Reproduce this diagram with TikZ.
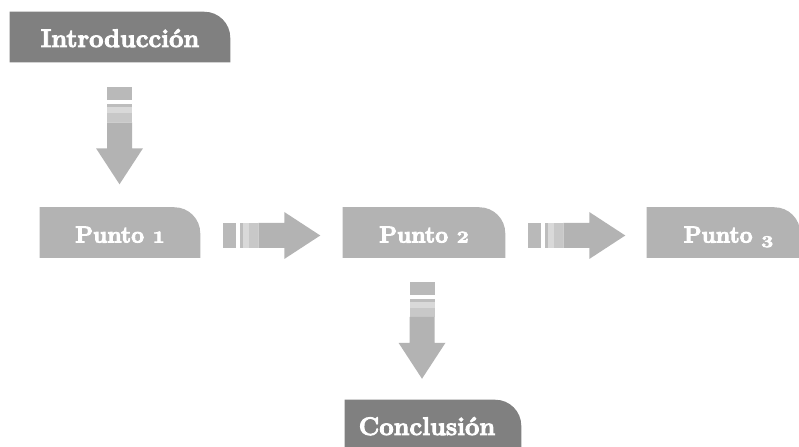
\documentclass[tikz,border=0pt]{standalone}
\usetikzlibrary{backgrounds}
\definecolor{darkbox}{HTML}{808080}
\definecolor{lightbox}{HTML}{B3B3B3}
\definecolor{arrA}{HTML}{B9B9B9}
\definecolor{arrB}{HTML}{BDBDBD}
\definecolor{arrC}{HTML}{D9D9D9}
\definecolor{arrD}{HTML}{C8C8C8}
\definecolor{arrmain}{HTML}{B3B3B3}
\newcommand{\heavytext}[1]{\special{pdf:code 2 Tr 0.7 w}#1\special{pdf:code 0 Tr}}
\newcommand{\osdigit}[1]{\scalebox{0.92}[0.72]{#1}}
\newcommand{\osdigitlow}[1]{\raisebox{-0.2em}{\scalebox{0.92}[0.72]{#1}}}
\tikzset{
  tabbox/.style={inner sep=0pt, minimum height=37.5pt, text=white,
    font=\bfseries\fontsize{17.28}{20}\selectfont, text height=15pt, text depth=0pt},
  bigtab/.style={tabbox, font=\bfseries\fontsize{19}{22}\selectfont},
  blockarr/.pic={
    \fill[arrA] (0,-12.5) rectangle (13,12.5);
    \fill[arrB] (17,-12.5) rectangle (20,12.5);
    \fill[arrC] (20,-12.5) rectangle (26,12.5);
    \fill[arrD] (26,-12.5) rectangle (35,12.5);
    \fill[arrmain] (35,-12.5) -- (61,-12.5) -- (61,-23.5) -- (97,0)
      -- (61,23.5) -- (61,12.5) -- (35,12.5) -- cycle;
  }
}
\begin{document}
\begin{tikzpicture}[x=0.75pt,y=0.75pt]
\useasboundingbox (0,0) rectangle (799,446);
\node[bigtab, minimum width=165pt] (intro) at (120,409) {\heavytext{Introducción}};
\node[tabbox, minimum width=120pt] (p1) at (120,213.5) {\heavytext{Punto \osdigit{1}}};
\node[tabbox, minimum width=121.5pt] (p2) at (424,213.5) {\heavytext{Punto \osdigit{2}}};
\node[tabbox, minimum width=114.75pt] (p3) at (723.5,213.5) {\hspace*{7.5pt}\heavytext{Punto \osdigitlow{3}}};
\node[bigtab, minimum width=132pt] (concl) at (433,21) {\heavytext{Conclusión}\hspace*{9pt}};
\begin{pgfonlayer}{background}
  \foreach \n/\c in {intro/darkbox, p1/lightbox, p2/lightbox, p3/lightbox, concl/darkbox}
    \fill[\c] (\n.south west) -- (\n.north west) -- ([xshift=-19.5pt]\n.north east)
      arc[start angle=90, end angle=0, radius=19.5pt] -- (\n.south east) -- cycle;
\end{pgfonlayer}
\path (intro.south) ++(-0.5,-25) coordinate (a1);
\path (p1.east) ++(23,-3) coordinate (a2);
\path (p2.east) ++(23,-3) coordinate (a3);
\path (p2.south) ++(-2,-24) coordinate (a4);
\pic[rotate=-90] at (a1) {blockarr};
\pic at (a2) {blockarr};
\pic at (a3) {blockarr};
\pic[rotate=-90] at (a4) {blockarr};
\end{tikzpicture}
\end{document}
